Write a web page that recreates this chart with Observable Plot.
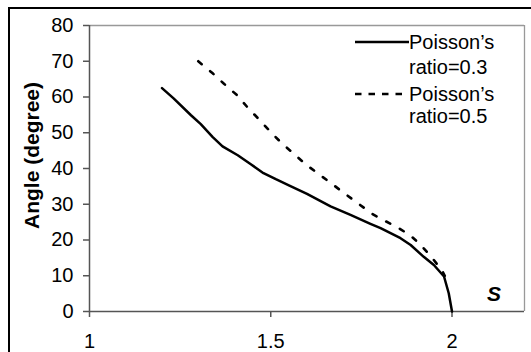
<!DOCTYPE html>
<html>
<head>
<meta charset="utf-8">
<script src="https://cdn.jsdelivr.net/npm/d3@7"></script>
<script src="https://cdn.jsdelivr.net/npm/@observablehq/plot@0.6"></script>
<style>
  html, body { margin: 0; padding: 0; background: #fff; }
  #wrap { position: relative; width: 531px; height: 352px; overflow: hidden; font-family: "Liberation Sans", Arial, sans-serif; }
  #outer { position: absolute; left: 8px; top: 7px; width: 600px; height: 600px; border-left: 2px solid #000; border-top: 2px solid #000; box-sizing: border-box; }
  .lg { position: absolute; font-size: 20px; line-height: 24px; color: #000; white-space: nowrap; }
  .sw { position: absolute; }
  #slabel { position: absolute; font-size: 21px; font-weight: bold; font-style: italic; }
</style>
</head>
<body>
<div id="wrap"></div>
<script>
// Series: Poisson's ratio = 0.3 (solid)
const sSolid = [1.2, 1.232, 1.28, 1.307, 1.34, 1.367, 1.409, 1.445, 1.48, 1.514, 1.55, 1.6, 1.665, 1.72, 1.775, 1.803, 1.858, 1.886, 1.922, 1.95, 1.978, 1.991, 2.0];
const angleSolid = [62.5, 59.6, 54.9, 52.4, 48.8, 46.2, 43.7, 41.2, 38.7, 37.0, 35.3, 32.9, 29.4, 27.0, 24.5, 23.3, 20.5, 18.6, 15.3, 13.0, 9.8, 5.1, 0];
// Series: Poisson's ratio = 0.5 (dashed)
const sDashed = [1.3, 1.339, 1.371, 1.406, 1.436, 1.467, 1.498, 1.53, 1.564, 1.596, 1.633, 1.665, 1.7, 1.74, 1.78, 1.812, 1.849, 1.886, 1.913, 1.946, 1.973, 1.98];
const angleDashed = [70, 66.7, 63.7, 60.6, 57.1, 53.8, 50.4, 47.1, 44.1, 41.2, 38.4, 36.0, 33.3, 30.3, 27.3, 25.5, 23.6, 21.2, 18.7, 14.9, 11.4, 10.0];
// Ticks
const xTicks = [1, 1.5, 2];
const yTicks = [0, 10, 20, 30, 40, 50, 60, 70, 80];
const xDomain = [1, 2.2];
const yDomain = [0, 80];
const seriesNames = ["Poisson\u2019s ratio=0.3", "Poisson\u2019s ratio=0.5"];
const yTitle = "Angle (degree)";
const xTitle = "S";

const solid = sSolid.map((s, i) => ({s, a: angleSolid[i]}));
const dashed = sDashed.map((s, i) => ({s, a: angleDashed[i]}));

const chart = Plot.plot({
  width: 531,
  height: 352,
  marginLeft: 89,
  marginRight: 7,
  marginTop: 25,
  marginBottom: 41,
  style: {fontFamily: "'Liberation Sans', Arial, sans-serif", fontSize: "20px", background: "transparent", overflow: "visible"},
  x: {domain: xDomain, label: null},
  y: {domain: yDomain, label: null},
  marks: [
    Plot.ruleY([yDomain[1]], {stroke: "#999", strokeWidth: 1.3}),
    Plot.ruleX([xDomain[1]], {stroke: "#999", strokeWidth: 1.3}),
    Plot.axisY(yTicks, {tickSize: 6, tickPadding: 10, stroke: "#555", strokeWidth: 1.5, fill: "#000", fontSize: 20, label: null, strokeOpacity: 1}),
    Plot.axisX(xTicks, {tickSize: 6, tickPadding: 16, stroke: "#555", strokeWidth: 1.5, fill: "#000", fontSize: 20, label: null, strokeOpacity: 1, tickFormat: d => String(d)}),
    Plot.ruleX([xDomain[0]], {stroke: "#555", strokeWidth: 1.5}),
    Plot.ruleY([yDomain[0]], {stroke: "#555", strokeWidth: 1.5}),
    Plot.line(dashed, {x: "s", y: "a", stroke: "#000", strokeWidth: 2.6, strokeDasharray: "4.5,11"}),
    Plot.line(solid, {x: "s", y: "a", stroke: "#000", strokeWidth: 2.5}),
    Plot.text([yTitle], {frameAnchor: "left", textAnchor: "middle", dx: -57, dy: -13, rotate: -90, fontSize: 21, fontWeight: "bold", fill: "#000"})
  ]
});

const wrap = document.getElementById("wrap");
const outer = document.createElement("div");
outer.id = "outer";
wrap.appendChild(outer);
chart.style.position = "absolute";
chart.style.left = "0px";
chart.style.top = "0px";
wrap.appendChild(chart);

// Legend
function addText(txt, left, cy) {
  const d = document.createElement("div");
  d.className = "lg";
  d.textContent = txt;
  d.style.left = left + "px";
  d.style.top = (cy - 12) + "px";
  wrap.appendChild(d);
}
function addSwatch(cy, dash) {
  const ns = "http://www.w3.org/2000/svg";
  const svg = document.createElementNS(ns, "svg");
  svg.setAttribute("class", "sw");
  svg.setAttribute("width", 56);
  svg.setAttribute("height", 6);
  svg.style.left = "354px";
  svg.style.top = (cy - 3) + "px";
  const l = document.createElementNS(ns, "line");
  l.setAttribute("x1", 1); l.setAttribute("x2", 55);
  l.setAttribute("y1", 3); l.setAttribute("y2", 3);
  l.setAttribute("stroke", "#000");
  l.setAttribute("stroke-width", 2.6);
  if (dash) l.setAttribute("stroke-dasharray", "6.5,7");
  svg.appendChild(l);
  wrap.appendChild(svg);
}
const parts = seriesNames.map(n => { const i = n.indexOf(" "); return [n.slice(0, i), n.slice(i + 1)]; });
addSwatch(42, false);
addText(parts[0][0], 409, 42);
addText(parts[0][1], 409, 67);
addSwatch(94, true);
addText(parts[1][0], 409, 94);
addText(parts[1][1], 409, 116);

const sl = document.createElement("div");
sl.id = "slabel";
sl.textContent = xTitle;
sl.style.left = "487px";
sl.style.top = "282px";
wrap.appendChild(sl);
</script>
</body>
</html>
